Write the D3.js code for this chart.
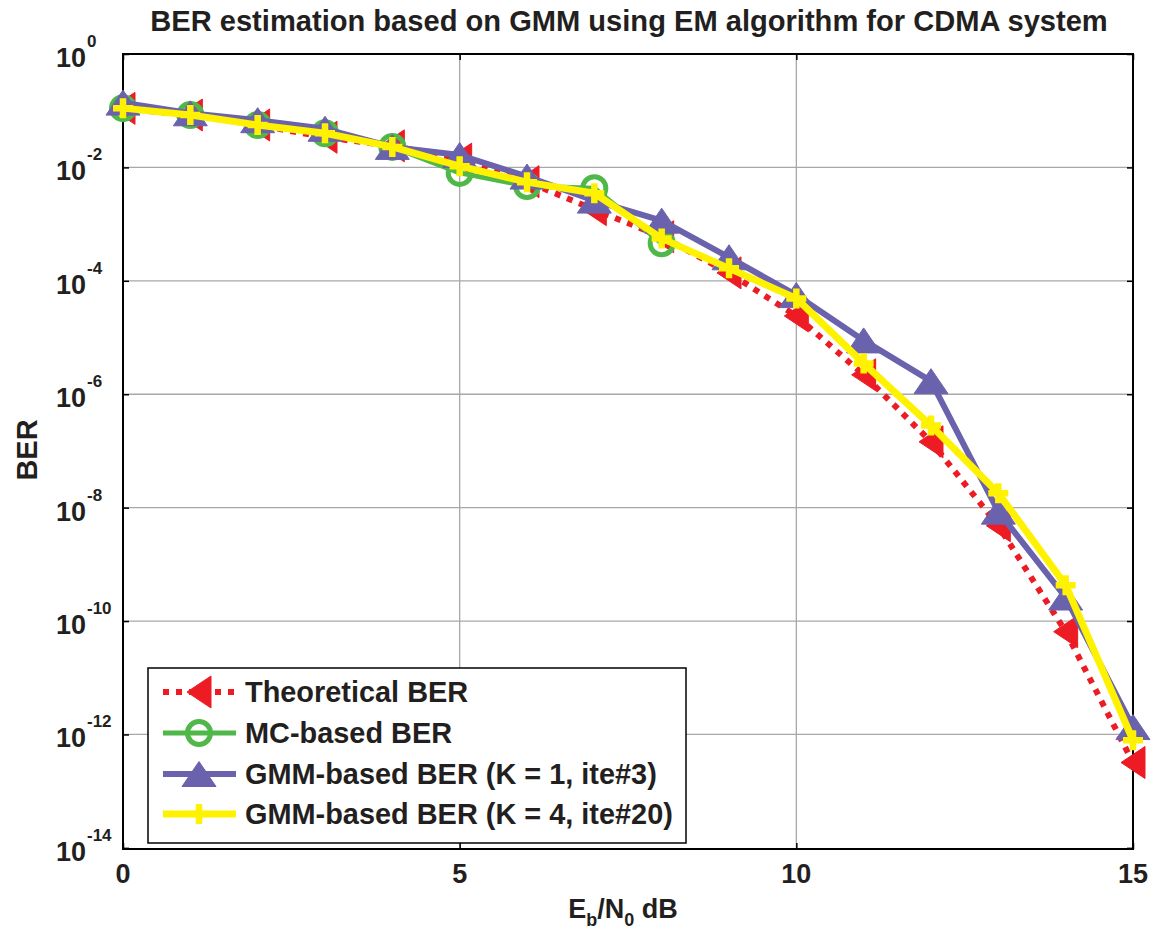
<!DOCTYPE html>
<html>
<head>
<meta charset="utf-8">
<script src="https://cdn.jsdelivr.net/npm/d3@7"></script>
<style>
html,body{margin:0;padding:0;background:#fff;}
svg{display:block;font-family:"Liberation Sans",Arial,sans-serif;font-weight:bold;}
</style>
</head>
<body>
<svg id="chart" width="1154" height="933"></svg>
<script>
// ---------- data ----------
const ebn0 = [0,1,2,3,4,5,6,7,8,9,10,11,12,13,14,15];
const theoreticalBER = [0.11,0.084,0.056,0.034,0.024,0.014,0.0056,0.0018,6e-4,1.38e-4,2.4e-5,2.2e-6,1.45e-7,4.8e-9,6.5e-11,3.2e-13];
const mcX = [0,1,2,3,4,5,6,7,8];
const mcBER = [0.111,0.084,0.056,0.040,0.023,0.008,0.0047,0.0043,4.6e-4];
const gmmK1BER = [0.139,0.09,0.068,0.048,0.023,0.0165,0.0069,0.0026,1.15e-3,2.6e-4,5.6e-5,8.9e-6,1.7e-6,8.5e-9,2.6e-10,1.35e-12];
const gmmK4BER = [0.111,0.084,0.056,0.040,0.023,0.0105,0.0055,0.0035,5.6e-4,1.66e-4,4.9e-5,3.5e-6,2.8e-7,1.8e-8,4.3e-10,7.9e-13];
const xTicks = [0,5,10,15];
const yTickExps = [0,-2,-4,-6,-8,-10,-12,-14];
const legendLabels = ["Theoretical BER","MC-based BER","GMM-based BER (K = 1, ite#3)","GMM-based BER (K = 4, ite#20)"];
const titleText = "BER estimation based on GMM using EM algorithm for CDMA system";

// ---------- layout ----------
const L = 123, R = 1133, T = 54, B = 849;
const svg = d3.select("#chart");
const x = d3.scaleLinear().domain([0,15]).range([L,R]);
const y = d3.scaleLog().domain([Math.pow(10,-14.02),1]).range([B,T]);

const colors = {red:"#ed1c24", green:"#50b848", purple:"#6a62ac", yellow:"#fff200"};

// grid
const grid = svg.append("g");
yTickExps.forEach(e => {
  if (e === 0 || e === -14) return;
  grid.append("line").attr("x1",L).attr("x2",R).attr("y1",y(Math.pow(10,e))).attr("y2",y(Math.pow(10,e)))
    .attr("stroke","#a8a8a8").attr("stroke-width",1.3);
});
xTicks.forEach(v => {
  if (v === 0 || v === 15) return;
  grid.append("line").attr("x1",x(v)).attr("x2",x(v)).attr("y1",T).attr("y2",B)
    .attr("stroke","#a8a8a8").attr("stroke-width",1.3);
});

// axes via d3 axis (ticks inward)
const yAxisL = d3.axisLeft(y).tickValues(yTickExps.map(e=>Math.pow(10,e))).tickSize(-6).tickFormat("");
const yAxisR = d3.axisRight(y).tickValues(yTickExps.map(e=>Math.pow(10,e))).tickSize(-6).tickFormat("");
const xAxisB = d3.axisBottom(x).tickValues(xTicks).tickSize(-6).tickFormat("");
const xAxisT = d3.axisTop(x).tickValues(xTicks).tickSize(-6).tickFormat("");
[[yAxisL,`translate(${L},0)`],[yAxisR,`translate(${R},0)`],[xAxisB,`translate(0,${B})`],[xAxisT,`translate(0,${T})`]].forEach(([ax,tr])=>{
  const g = svg.append("g").attr("transform",tr).call(ax);
  g.select(".domain").remove();
  g.selectAll("line").attr("stroke","#000").attr("stroke-width",1.5);
});
svg.append("rect").attr("x",L).attr("y",T).attr("width",R-L).attr("height",B-T)
  .attr("fill","none").attr("stroke","#000").attr("stroke-width",2);

// y tick labels
yTickExps.forEach(e => {
  const yy = y(Math.pow(10,e)) + 13;
  svg.append("text").attr("x",86).attr("y",yy).attr("text-anchor","end")
    .attr("font-size",27).attr("fill","#231f20").text("10");
  svg.append("text").attr("x",87).attr("y",yy-20).attr("text-anchor","start")
    .attr("font-size",17).attr("fill","#231f20").text(e===0?"0":String(e));
});
// x tick labels
xTicks.forEach(v => {
  svg.append("text").attr("x",x(v)).attr("y",883).attr("text-anchor","middle")
    .attr("font-size",27).attr("fill","#231f20").text(v);
});

// axis labels
const xl = svg.append("text").attr("x",623).attr("y",918).attr("text-anchor","middle")
  .attr("font-size",27).attr("fill","#231f20");
xl.append("tspan").text("E");
xl.append("tspan").attr("font-size",18).attr("dy",8).text("b");
xl.append("tspan").attr("dy",-8).text("/N");
xl.append("tspan").attr("font-size",18).attr("dy",8).text("0");
xl.append("tspan").attr("dy",-8).text(" dB");

svg.append("text").attr("transform","translate(37,450) rotate(-90)").attr("text-anchor","middle")
  .attr("font-size",29).attr("fill","#231f20").text("BER");

// title
const title = svg.append("text").attr("x",629).attr("y",31).attr("text-anchor","middle")
  .attr("font-size",24).attr("fill","#231f20").text(titleText);
(function fit(){ const w = title.node().getComputedTextLength(); title.attr("font-size",24*958/w); })();

// ---------- series ----------
function triPath(dir, w, h){
  if (dir === "up") return `M0,${-h/2}L${w/2},${h/2}L${-w/2},${h/2}Z`;
  return `M${-w/2},0L${w/2},${-h/2}L${w/2},${h/2}Z`;
}
const line = d3.line().x(d=>x(d[0])).y(d=>y(d[1]));

function drawSeries(xs, ys, style){
  const pts = xs.map((v,i)=>[v,ys[i]]);
  const g = svg.append("g");
  g.append("path").attr("d",line(pts)).attr("fill","none").attr("stroke",style.color)
    .attr("stroke-width",style.lw).attr("stroke-dasharray",style.dash||null)
    .attr("stroke-linejoin","round");
  pts.forEach(p => drawMarker(g, x(p[0]), y(p[1]), style));
}
function drawMarker(g, cx, cy, style){
  if (style.marker === "left") {
    g.append("path").attr("d",triPath("left",24,32)).attr("transform",`translate(${cx},${cy})`)
      .attr("fill",style.color).attr("stroke",style.color).attr("stroke-width",1);
  } else if (style.marker === "circle") {
    g.append("circle").attr("cx",cx).attr("cy",cy).attr("r",11.5).attr("fill","none")
      .attr("stroke",style.color).attr("stroke-width",5);
  } else if (style.marker === "up") {
    g.append("path").attr("d",triPath("up",34,25)).attr("transform",`translate(${cx},${cy})`)
      .attr("fill",style.color).attr("stroke",style.color).attr("stroke-width",1);
  } else if (style.marker === "plus") {
    g.append("path").attr("d","M-10,0H10M0,-10V10").attr("transform",`translate(${cx},${cy})`)
      .attr("stroke",style.color).attr("stroke-width",6.5).attr("fill","none");
  }
}
const styles = [
  {color:colors.red, lw:6, dash:"6,7", marker:"left"},
  {color:colors.green, lw:5, marker:"circle"},
  {color:colors.purple, lw:6, marker:"up"},
  {color:colors.yellow, lw:7, marker:"plus"}
];
drawSeries(ebn0, theoreticalBER, styles[0]);
drawSeries(mcX, mcBER, styles[1]);
drawSeries(ebn0, gmmK1BER, styles[2]);
drawSeries(ebn0, gmmK4BER, styles[3]);

// ---------- legend ----------
const lg = svg.append("g");
lg.append("rect").attr("x",148).attr("y",668).attr("width",538).attr("height",175)
  .attr("fill","#fff").attr("stroke","#000").attr("stroke-width",1.5);
const rowY = [692,733,774,814];
const texts = [];
legendLabels.forEach((lab,i)=>{
  const st = styles[i];
  lg.append("line").attr("x1",163).attr("x2",236).attr("y1",rowY[i]).attr("y2",rowY[i])
    .attr("stroke",st.color).attr("stroke-width",st.lw).attr("stroke-dasharray",st.dash||null);
  drawMarker(lg, 199, rowY[i], st);
  texts.push(lg.append("text").attr("x",245).attr("y",rowY[i]+10).attr("font-size",28)
    .attr("fill","#231f20").text(lab));
});
(function fitLegend(){
  const w = texts[3].node().getComputedTextLength();
  const fs = 28*428/w;
  texts.forEach(t=>t.attr("font-size",fs));
})();
</script>
</body>
</html>
